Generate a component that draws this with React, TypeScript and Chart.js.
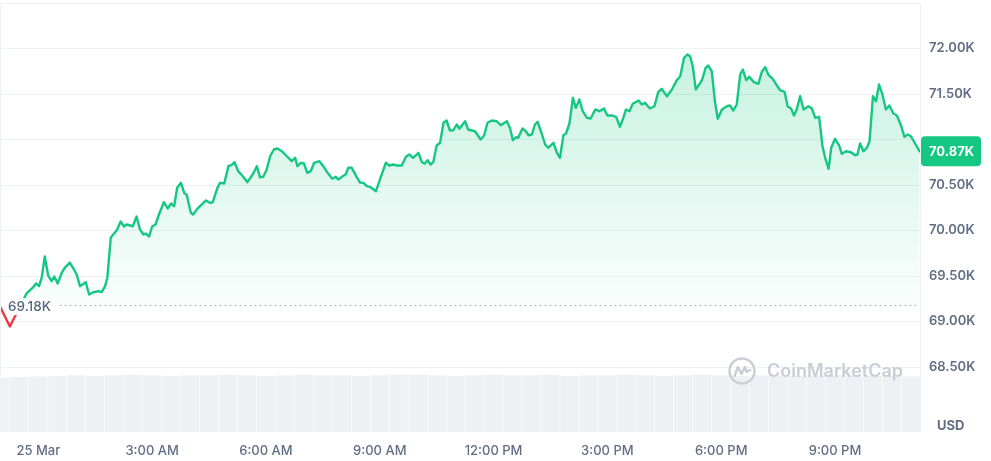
import { useEffect, useRef } from 'react';
import { Chart, registerables } from 'chart.js';

Chart.register(...registerables);

// ---- data (hours relative to 25 Mar 00:00, price in USD) ----
const hours = [
  -1.01, -0.75, -0.31, -0.14, -0.06, 0.02, 0.09, 0.17, 0.26, 0.35, 0.42, 0.51, 0.62, 0.70, 0.83, 0.94, 1.01, 1.10, 1.25, 1.34,
  1.45, 1.58, 1.67, 1.76, 1.82, 1.91, 2.02, 2.08, 2.17, 2.26, 2.33, 2.49, 2.59, 2.68, 2.77, 2.83, 2.92, 3.00, 3.09, 3.18,
  3.31, 3.41, 3.50, 3.58, 3.66, 3.76, 3.85, 3.91, 4.02, 4.08, 4.19, 4.31, 4.42, 4.52, 4.60, 4.72, 4.79, 4.90, 5.01, 5.11,
  5.17, 5.27, 5.39, 5.51, 5.65, 5.76, 5.84, 5.93, 6.02, 6.11, 6.21, 6.30, 6.42, 6.55, 6.68, 6.77, 6.83, 6.92, 7.00, 7.09,
  7.18, 7.27, 7.41, 7.51, 7.64, 7.75, 7.84, 7.91, 8.00, 8.10, 8.17, 8.26, 8.37, 8.48, 8.57, 8.66, 8.74, 8.90, 9.02, 9.16,
  9.25, 9.36, 9.46, 9.58, 9.69, 9.78, 9.88, 10.02, 10.11, 10.19, 10.26, 10.34, 10.41, 10.50, 10.59, 10.68, 10.76, 10.85, 10.94, 11.03,
  11.10, 11.25, 11.33, 11.51, 11.66, 11.75, 11.84, 11.95, 12.08, 12.19, 12.35, 12.43, 12.51, 12.59, 12.65, 12.76, 12.85, 12.92, 13.01, 13.09,
  13.16, 13.26, 13.36, 13.44, 13.58, 13.67, 13.75, 13.84, 13.91, 14.00, 14.09, 14.17, 14.26, 14.35, 14.46, 14.56, 14.68, 14.79, 14.91, 15.00,
  15.12, 15.23, 15.33, 15.42, 15.49, 15.58, 15.67, 15.82, 15.91, 15.99, 16.12, 16.24, 16.34, 16.43, 16.57, 16.70, 16.83, 16.92, 17.02, 17.11,
  17.18, 17.25, 17.33, 17.42, 17.50, 17.59, 17.66, 17.75, 17.84, 17.91, 18.02, 18.15, 18.23, 18.32, 18.41, 18.50, 18.57, 18.66, 18.74, 18.85,
  18.98, 19.07, 19.16, 19.24, 19.36, 19.47, 19.55, 19.67, 19.75, 19.84, 19.92, 19.99, 20.08, 20.17, 20.30, 20.39, 20.48, 20.58, 20.67, 20.74,
  20.83, 20.90, 21.00, 21.11, 21.18, 21.29, 21.42, 21.53, 21.59, 21.66, 21.75, 21.84, 21.91, 22.00, 22.08, 22.16, 22.25, 22.34, 22.43, 22.54,
  22.63, 22.74, 22.83, 22.92, 23.00, 23.11, 23.23,
];

const prices = [
  69165, 68945, 69308, 69374, 69418, 69388, 69484, 69714, 69505, 69443, 69495, 69418, 69538, 69593, 69648, 69571, 69516, 69388, 69432, 69297,
  69322, 69333, 69322, 69388, 69484, 69923, 69978, 70011, 70099, 70044, 70066, 70047, 70154, 70011, 69956, 69967, 69934, 70044, 70066, 70176,
  70311, 70242, 70297, 70267, 70469, 70524, 70407, 70396, 70195, 70176, 70238, 70286, 70330, 70304, 70311, 70469, 70524, 70516, 70707, 70725,
  70751, 70652, 70597, 70531, 70615, 70707, 70586, 70590, 70670, 70816, 70890, 70901, 70871, 70816, 70762, 70799, 70707, 70744, 70736, 70634,
  70652, 70744, 70762, 70707, 70626, 70568, 70590, 70560, 70590, 70615, 70689, 70689, 70604, 70527, 70524, 70487, 70480, 70432, 70579, 70744,
  70714, 70725, 70714, 70714, 70810, 70835, 70799, 70854, 70751, 70736, 70773, 70725, 70751, 70934, 70964, 71184, 71209, 71099, 71102, 71165,
  71118, 71201, 71110, 71091, 71000, 71044, 71184, 71209, 71201, 71157, 71201, 71129, 70992, 71025, 71019, 71121, 71091, 71047, 71055, 71165,
  71195, 71077, 70945, 70909, 70964, 70854, 70799, 71047, 71066, 71176, 71458, 71348, 71440, 71311, 71238, 71231, 71330, 71311, 71341, 71264,
  71264, 71249, 71140, 71238, 71330, 71311, 71392, 71429, 71385, 71403, 71341, 71366, 71520, 71557, 71476, 71549, 71652, 71696, 71898, 71934,
  71915, 71805, 71549, 71604, 71659, 71788, 71813, 71751, 71403, 71227, 71330, 71366, 71374, 71319, 71385, 71714, 71769, 71652, 71689, 71634,
  71612, 71744, 71795, 71714, 71667, 71593, 71542, 71524, 71366, 71341, 71264, 71330, 71476, 71330, 71366, 71341, 71238, 71249, 70926, 70799,
  70678, 70909, 71008, 70934, 70843, 70871, 70860, 70827, 70835, 70956, 70871, 70909, 70981, 71476, 71421, 71604, 71495, 71330, 71374, 71286,
  71264, 71154, 71030, 71055, 71036, 70956, 70870,
];

const volumeHours = [
  -1, -0.5, 0, 0.5, 1, 1.5, 2, 2.5, 3, 3.5, 4, 4.5, 5, 5.5, 6, 6.5, 7, 7.5, 8, 8.5,
  9, 9.5, 10, 10.5, 11, 11.5, 12, 12.5, 13, 13.5, 14, 14.5, 15, 15.5, 16, 16.5, 17, 17.5, 18, 18.5,
  19, 19.5, 20, 20.5, 21, 21.5, 22, 22.5, 23,
];
const volumes = [
  0.95, 0.96, 0.97, 0.98, 0.99, 0.98, 0.99, 1.0, 0.99, 0.98, 0.99, 0.99, 1.0, 0.99, 0.98, 0.99, 1.0, 0.99, 0.99, 0.98,
  0.99, 1.0, 1.0, 0.99, 0.98, 0.99, 1.0, 0.99, 0.99, 1.0, 0.98, 0.99, 0.99, 1.0, 0.99, 0.98, 0.99, 1.0, 0.99, 0.98,
  0.99, 0.99, 0.98, 0.99, 1.0, 0.99, 0.98, 0.99, 0.97,
];

const xTickHours = [0, 3, 6, 9, 12, 15, 18, 21];
const xTickLabels = ['25 Mar', '3:00 AM', '6:00 AM', '9:00 AM', '12:00 PM', '3:00 PM', '6:00 PM', '9:00 PM'];
const yTickValues = [68500, 69000, 69500, 70000, 70500, 71000, 71500, 72000];
const openPrice = 69180;
const openLabel = '69.18K';
const lastPrice = 70870;
const lastLabel = '70.87K';
const currencyLabel = 'USD';
const watermarkText = 'CoinMarketCap';

const GREEN = '#16c784';
const RED = '#ea3943';
const GRID = '#eff2f5';
const TEXT = '#616e85';
const FONT = 'Inter, "Noto Sans", sans-serif';

const overlay = {
  id: 'cmcOverlay',
  afterDatasetsDraw(chart: any) {
    const { ctx, chartArea, scales } = chart;
    const { left, right, top, bottom } = chartArea;
    const yb = scales.y.getPixelForValue(openPrice);
    ctx.save();
    // frame
    ctx.strokeStyle = GRID;
    ctx.lineWidth = 1;
    ctx.beginPath();
    ctx.moveTo(left + 0.5, bottom);
    ctx.lineTo(left + 0.5, top + 0.5);
    ctx.lineTo(right + 0.5, top + 0.5);
    ctx.lineTo(right + 0.5, bottom);
    ctx.stroke();

    // watermark
    const cx = 742, cy = 371;
    ctx.strokeStyle = '#c9ced6';
    ctx.lineWidth = 2.4;
    ctx.beginPath();
    ctx.arc(cx, cy, 12.5, 0, Math.PI * 2);
    ctx.stroke();
    ctx.lineJoin = 'round';
    ctx.lineCap = 'round';
    ctx.beginPath();
    ctx.moveTo(cx - 7.5, cy + 5);
    ctx.lineTo(cx - 4, cy - 4);
    ctx.lineTo(cx - 0.5, cy + 3);
    ctx.lineTo(cx + 3, cy - 4);
    ctx.lineTo(cx + 4.5, cy + 1);
    ctx.lineTo(cx + 8, cy - 1);
    ctx.stroke();
    ctx.fillStyle = '#c9ced6';
    ctx.font = `600 18px ${FONT}`;
    ctx.textBaseline = 'middle';
    ctx.textAlign = 'left';
    ctx.fillText(watermarkText, 767, cy + 1);

    // dotted open-price line
    ctx.strokeStyle = '#a3aab6';
    ctx.lineWidth = 1;
    ctx.setLineDash([1, 4]);
    ctx.beginPath();
    ctx.moveTo(60, Math.round(yb) + 0.5);
    ctx.lineTo(right, Math.round(yb) + 0.5);
    ctx.stroke();
    ctx.setLineDash([]);

    // open price label
    ctx.fillStyle = 'rgba(255,255,255,0.92)';
    ctx.fillRect(6, yb - 7, 50, 17);
    ctx.fillStyle = '#58667e';
    ctx.font = `500 13.5px ${FONT}`;
    ctx.fillText(openLabel, 8, yb + 2);

    // last price badge
    const yl = scales.y.getPixelForValue(lastPrice);
    ctx.fillStyle = GREEN;
    ctx.beginPath();
    (ctx as any).roundRect(921, yl - 15, 60, 30, 4);
    ctx.fill();
    ctx.fillStyle = '#ffffff';
    ctx.font = `700 13px ${FONT}`;
    ctx.fillText(lastLabel, 929, yl + 1);

    // currency
    ctx.fillStyle = TEXT;
    ctx.font = `700 13px ${FONT}`;
    ctx.fillText(currencyLabel, 937, 426);
    ctx.restore();
  },
};

export default function App() {
  const ref = useRef<HTMLCanvasElement>(null);

  useEffect(() => {
    if (!ref.current) return;
    const chart = new Chart(ref.current, {
      type: 'line',
      data: {
        datasets: [
          {
            type: 'line',
            data: hours.map((h, i) => ({ x: h, y: prices[i] })),
            yAxisID: 'y',
            order: 1,
            borderWidth: 2.4,
            pointRadius: 0,
            tension: 0,
            borderJoinStyle: 'round',
            borderCapStyle: 'round',
            borderColor: (c: any) => {
              const { chart: ch } = c;
              const area = ch.chartArea;
              if (!area) return GREEN;
              const yb = ch.scales.y.getPixelForValue(openPrice);
              const f = Math.min(1, Math.max(0, (yb - area.top) / (area.bottom - area.top)));
              const g = ch.ctx.createLinearGradient(0, area.top, 0, area.bottom);
              g.addColorStop(0, GREEN);
              g.addColorStop(f, GREEN);
              g.addColorStop(f, RED);
              g.addColorStop(1, RED);
              return g;
            },
            backgroundColor: (c: any) => {
              const { chart: ch } = c;
              const area = ch.chartArea;
              if (!area) return 'rgba(22,199,132,0.12)';
              const yb = ch.scales.y.getPixelForValue(openPrice);
              const g = ch.ctx.createLinearGradient(0, area.top + 40, 0, yb);
              g.addColorStop(0, 'rgba(22,199,132,0.25)');
              g.addColorStop(1, 'rgba(22,199,132,0.02)');
              return g;
            },
            fill: { value: openPrice },
          } as any,
          {
            type: 'bar',
            data: volumeHours.map((h, i) => ({ x: h, y: volumes[i] })),
            yAxisID: 'yv',
            order: 2,
            backgroundColor: '#eef0f3',
            barPercentage: 0.97,
            categoryPercentage: 1,
          } as any,
        ],
      },
      options: {
        responsive: false,
        animation: false,
        layout: { padding: { top: 3, left: 0, right: 0, bottom: 0 } },
        plugins: { legend: { display: false }, tooltip: { enabled: false } },
        scales: {
          x: {
            type: 'linear',
            offset: false,
            min: -1.01,
            max: 23.24,
            grid: { display: false, drawTicks: false, offset: false },
            border: { display: false },
            afterBuildTicks: (axis: any) => {
              axis.ticks = xTickHours.map((v) => ({ value: v }));
            },
            afterFit: (axis: any) => {
              axis.height = 29;
              axis.paddingLeft = 0;
              axis.paddingRight = 0;
            },
            ticks: {
              autoSkip: false,
              maxRotation: 0,
              padding: 11,
              color: TEXT,
              font: { family: FONT, size: 13, weight: '500' },
              callback: (v: any) => {
                const i = xTickHours.indexOf(Number(v));
                return i >= 0 ? xTickLabels[i] : '';
              },
            },
          },
          y: {
            position: 'right',
            min: 67786,
            max: 72500,
            grid: { color: GRID, drawTicks: false },
            border: { display: false },
            afterBuildTicks: (axis: any) => {
              axis.ticks = yTickValues.map((v) => ({ value: v }));
            },
            afterFit: (axis: any) => {
              axis.width = 71;
              axis.paddingTop = 0;
              axis.paddingBottom = 0;
            },
            ticks: {
              padding: 9,
              color: TEXT,
              font: { family: FONT, size: 13, weight: '600' },
              // the label hidden behind the last-price badge is not drawn
              callback: (v: any) =>
                Math.abs(Number(v) - lastPrice) < 250 ? '' : (Number(v) / 1000).toFixed(2) + 'K',
            },
          },
          yv: {
            display: false,
            min: 0,
            max: 7.5,
          },
        },
      } as any,
      plugins: [overlay],
    });
    return () => chart.destroy();
  }, []);

  return (
    <div style={{ position: 'fixed', left: 0, top: 0, width: 991, height: 461, background: '#ffffff' }}>
      <canvas ref={ref} width={991} height={461} style={{ display: 'block' }} />
    </div>
  );
}
